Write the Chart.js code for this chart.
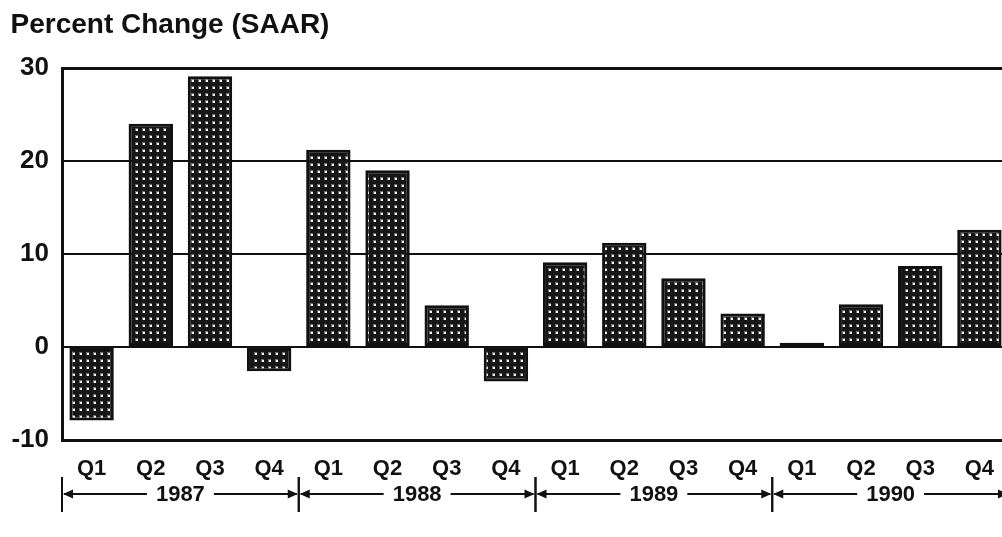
<!DOCTYPE html>
<html>
<head>
<meta charset="utf-8">
<script src="https://cdn.jsdelivr.net/npm/chart.js@4/dist/chart.umd.min.js"></script>
<style>
  html, body { margin: 0; padding: 0; background: #fff; overflow: hidden; }
  #wrap { position: relative; width: 1012px; height: 537px; }
</style>
</head>
<body>
<div id="wrap"><canvas id="c" width="1012" height="537"></canvas></div>
<script>
// Quarterly percent change, seasonally adjusted annual rate
const quarters = ['Q1', 'Q2', 'Q3', 'Q4', 'Q1', 'Q2', 'Q3', 'Q4',
                  'Q1', 'Q2', 'Q3', 'Q4', 'Q1', 'Q2', 'Q3', 'Q4'];
const years = ['1987', '1988', '1989', '1990'];
const pctChange = [-7.9, 24.0, 29.1, -2.6, 21.2, 19.0, 4.5, -3.7,
                   9.1, 11.2, 7.4, 3.6, 0.45, 4.6, 8.7, 12.6];
const yTicks = [-10, 0, 10, 20, 30];
const titleText = 'Percent Change (SAAR)';

const FONT = '"Liberation Sans", Arial, Helvetica, sans-serif';
const INK = '#111';

// Dark screen with light dots for the bar fill
function dotPattern() {
  const t = document.createElement('canvas');
  t.width = 7; t.height = 7;
  const g = t.getContext('2d');
  g.fillStyle = '#161616';
  g.fillRect(0, 0, 7, 7);
  g.fillStyle = '#6e6e6e';
  g.fillRect(2, 2, 3, 3);
  g.fillStyle = '#f4f4f4';
  g.fillRect(3, 3, 2, 2);
  return document.getElementById('c').getContext('2d').createPattern(t, 'repeat');
}

// Title in the upper left
const titlePlugin = {
  id: 'cornerTitle',
  afterDraw(chart) {
    const ctx = chart.ctx;
    ctx.save();
    ctx.fillStyle = INK;
    ctx.font = 'bold 28px ' + FONT;
    ctx.textBaseline = 'alphabetic';
    ctx.textAlign = 'left';
    ctx.fillText(titleText, 10.5, 33);
    ctx.restore();
  }
};

// Year brackets under the quarter labels
const yearPlugin = {
  id: 'yearBrackets',
  afterDraw(chart) {
    const xs = chart.scales.x;
    const ctx = chart.ctx;
    const per = quarters.length / years.length;
    const yLine = 494, yTop = 477, yBot = 512;
    ctx.save();
    ctx.strokeStyle = INK;
    ctx.fillStyle = INK;
    ctx.lineWidth = 2;
    ctx.font = 'bold 22px ' + FONT;
    ctx.textAlign = 'center';
    ctx.textBaseline = 'middle';
    const arrow = (tipX, dir) => {
      ctx.beginPath();
      ctx.moveTo(tipX, yLine);
      ctx.lineTo(tipX + dir * 10, yLine - 4.5);
      ctx.lineTo(tipX + dir * 10, yLine + 4.5);
      ctx.closePath();
      ctx.fill();
    };
    years.forEach((yr, i) => {
      const left = xs.getPixelForValue(i * per - 0.5);
      const right = xs.getPixelForValue((i + 1) * per - 0.5);
      const mid = (left + right) / 2;
      const w = ctx.measureText(yr).width;
      // boundary ticks
      [left, right].forEach(bx => {
        ctx.beginPath();
        ctx.moveTo(bx, yTop);
        ctx.lineTo(bx, yBot);
        ctx.stroke();
      });
      // shafts
      ctx.beginPath();
      ctx.moveTo(left + 2, yLine);
      ctx.lineTo(mid - w / 2 - 9, yLine);
      ctx.moveTo(mid + w / 2 + 9, yLine);
      ctx.lineTo(right - 2, yLine);
      ctx.stroke();
      arrow(left + 1, 1);
      arrow(right - 1, -1);
      ctx.fillText(yr, mid, yLine + 1);
    });
    ctx.restore();
  }
};

new Chart(document.getElementById('c'), {
  type: 'bar',
  data: {
    labels: quarters,
    datasets: [{
      data: pctChange,
      backgroundColor: dotPattern(),
      borderColor: INK,
      borderWidth: 3,
      borderSkipped: false,
      barPercentage: 0.75,
      categoryPercentage: 1.0
    }]
  },
  options: {
    responsive: false,
    devicePixelRatio: 1,
    animation: false,
    layout: { padding: { top: 68, left: 0, right: 3, bottom: 0 } },
    plugins: {
      legend: { display: false },
      title: { display: false },
      tooltip: { enabled: false }
    },
    scales: {
      x: {
        offset: true,
        grid: { display: false, drawTicks: false },
        border: { display: false },
        ticks: {
          color: INK,
          font: { family: FONT, size: 22, weight: 'bold' },
          padding: 16,
          maxRotation: 0,
          autoSkip: false
        },
        afterFit(scale) { scale.height = 97; }
      },
      y: {
        min: -10,
        max: 30,
        afterBuildTicks(scale) { scale.ticks = yTicks.map(v => ({ value: v })); },
        grid: {
          color: INK,
          drawTicks: false,
          lineWidth: ctx => (ctx.tick && (ctx.tick.value === 30 || ctx.tick.value === -10)) ? 3 : 2
        },
        border: { display: true, color: INK, width: 3 },
        ticks: {
          color: INK,
          font: { family: FONT, size: 26, weight: 'bold' },
          padding: 13
        },
        afterFit(scale) { scale.width = 62; }
      }
    }
  },
  plugins: [titlePlugin, yearPlugin]
});
</script>
</body>
</html>
